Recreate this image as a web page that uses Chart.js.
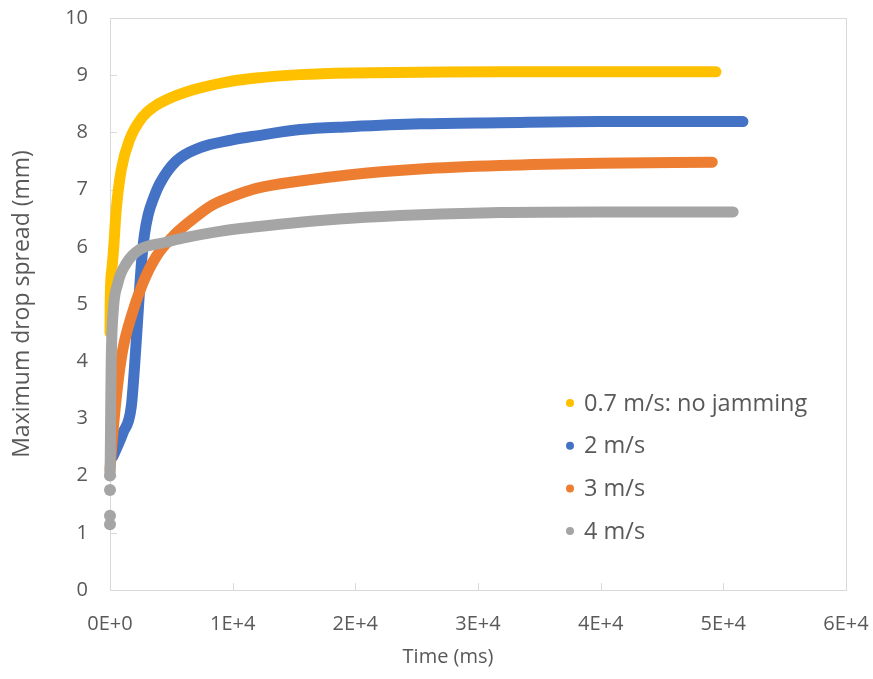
<!DOCTYPE html>
<html>
<head>
<meta charset="utf-8">
<script src="https://cdn.jsdelivr.net/npm/chart.js@4.4.1/dist/chart.umd.min.js"></script>
<style>
  html, body { margin: 0; padding: 0; background: #fff; }
</style>
</head>
<body>
<canvas id="grafico" width="873" height="679"></canvas>
<script>
// Tiempos (ms) y extensión máxima de la gota (mm) para cada velocidad de impacto
var tiempo07 = [0, 20, 150, 285, 505, 913, 1590, 2650, 3600, 4600, 6720, 9500, 11900, 15500, 19600, 25300, 31800, 39900, 49400];
var spread07 = [4.5, 5.07, 5.6, 5.94, 6.64, 7.34, 7.87, 8.27, 8.45, 8.57, 8.74, 8.88, 8.95, 9.01, 9.04, 9.05, 9.06, 9.06, 9.06];

var tiempo2 = [230, 1040, 1730, 2000, 2270, 2540, 2800, 3100, 3550, 4100, 5400, 7290, 9980, 11940, 15500, 19600, 25300, 31800, 39900, 51600];
var spread2 = [2.33, 2.74, 3.2, 3.9, 4.78, 5.65, 6.2, 6.55, 6.85, 7.12, 7.5, 7.73, 7.87, 7.94, 8.05, 8.1, 8.15, 8.17, 8.19, 8.19];

var tiempo3 = [0, 230, 640, 1040, 1730, 2670, 3770, 5120, 7030, 8350, 9980, 11940, 15500, 19600, 25300, 31800, 39900, 49100];
var spread3 = [2.1, 2.74, 3.61, 4.2, 4.78, 5.36, 5.83, 6.18, 6.53, 6.73, 6.88, 7.02, 7.15, 7.26, 7.36, 7.42, 7.46, 7.48];

var tiempo4 = [0, 0, 0, 0, 30, 60, 100, 230, 640, 1330, 2400, 4580, 5910, 8930, 11940, 15500, 19600, 25300, 31800, 39900, 50800];
var spread4 = [1.15, 1.3, 1.75, 2.0, 2.5, 3.2, 4.0, 4.78, 5.36, 5.71, 5.95, 6.08, 6.15, 6.27, 6.35, 6.43, 6.5, 6.56, 6.6, 6.61, 6.61];

var etiquetas = ['0.7 m/s: no jamming', '2 m/s', '3 m/s', '4 m/s'];
var colores = ['#FFC000', '#4472C4', '#ED7D31', '#A5A5A5'];
var ticksX = [0, 10000, 20000, 30000, 40000, 50000, 60000];
var ticksY = [0, 1, 2, 3, 4, 5, 6, 7, 8, 9, 10];

var fuente = "'Open Sans', 'Noto Sans', sans-serif";
var gris = '#595959';

function puntos(xs, ys) {
    var out = [];
    for (var i = 0; i < xs.length; i++) out.push({ x: xs[i], y: ys[i] });
    return out;
}

// 0 -> 0E+0, 10000 -> 1E+4
function cientifico(v) {
    if (v === 0) return '0E+0';
    var e = Math.floor(Math.log10(v));
    return Math.round(v / Math.pow(10, e)) + 'E+' + e;
}

function serie(i, xs, ys, orden) {
    return {
        label: etiquetas[i],
        data: puntos(xs, ys),
        showLine: true,
        cubicInterpolationMode: 'monotone',
        borderColor: colores[i],
        backgroundColor: colores[i],
        borderWidth: 11,
        borderCapStyle: 'round',
        borderJoinStyle: 'round',
        pointRadius: 0,
        pointBorderWidth: 0,
        pointHoverRadius: 0,
        clip: false,
        order: orden
    };
}

var datasets = [
    serie(0, tiempo07, spread07, 4),
    serie(1, tiempo2, spread2, 3),
    serie(2, tiempo3, spread3, 2),
    serie(3, tiempo4, spread4, 1)
];
// los primeros valores de 4 m/s son puntos sueltos
datasets[3].pointRadius = function (c) { return c.dataIndex < 4 ? 6 : 0; };
datasets[3].segment = {
    borderColor: function (c) { return c.p1DataIndex <= 3 ? 'rgba(0,0,0,0)' : colores[3]; }
};

// Marco del área, marcas hacia dentro, título del eje X y leyenda
var marco = {
    id: 'marco',
    beforeDatasetsDraw: function (chart) {
        var ctx = chart.ctx, a = chart.chartArea;
        var sx = chart.scales.x, sy = chart.scales.y;
        ctx.save();
        ctx.strokeStyle = '#D9D9D9';
        ctx.lineWidth = 1;
        ctx.strokeRect(Math.round(a.left) + 0.5, Math.round(a.top) + 0.5,
            Math.round(a.right - a.left), Math.round(a.bottom - a.top));
        ctx.beginPath();
        ticksY.forEach(function (v) {
            var py = Math.round(sy.getPixelForValue(v)) + 0.5;
            ctx.moveTo(a.left, py);
            ctx.lineTo(a.left + 7, py);
        });
        ticksX.forEach(function (v) {
            var px = Math.round(sx.getPixelForValue(v)) + 0.5;
            ctx.moveTo(px, a.bottom);
            ctx.lineTo(px, a.bottom - 7);
        });
        ctx.stroke();
        ctx.restore();
    },
    afterDraw: function (chart) {
        var ctx = chart.ctx, a = chart.chartArea;
        ctx.save();
        ctx.fillStyle = gris;
        ctx.textBaseline = 'middle';
        ctx.textAlign = 'center';
        ctx.font = '20px ' + fuente;
        ctx.fillText('Time (ms)', 448, 657);

        ctx.textAlign = 'left';
        ctx.font = '23.5px ' + fuente;
        var lx = a.left + 460, ly = a.top + 385;
        chart.data.datasets.forEach(function (d, i) {
            var y = ly + i * 42.7;
            ctx.fillStyle = d.borderColor;
            ctx.beginPath();
            ctx.arc(lx, y, 4, 0, Math.PI * 2);
            ctx.fill();
            ctx.fillStyle = gris;
            ctx.fillText(d.label, lx + 14, y + 1);
        });
        ctx.restore();
    }
};

var ctx = document.getElementById('grafico').getContext('2d');
var grafico = new Chart(ctx, {
    type: 'scatter',
    data: { datasets: datasets },
    plugins: [marco],
    options: {
        responsive: false,
        animation: false,
        devicePixelRatio: 1,
        layout: { padding: { top: 18, right: 27, left: 0, bottom: 0 } },
        plugins: {
            legend: { display: false },
            tooltip: { enabled: false }
        },
        scales: {
            x: {
                type: 'linear',
                min: 0,
                max: 60000,
                afterBuildTicks: function (s) { s.ticks = ticksX.map(function (v) { return { value: v }; }); },
                afterFit: function (s) { s.height = 89; s.paddingLeft = 0; s.paddingRight = 0; },
                grid: { display: false },
                border: { display: false },
                ticks: {
                    color: gris,
                    font: { family: fuente, size: 20 },
                    padding: 14,
                    maxRotation: 0,
                    callback: function (v) { return cientifico(v); }
                }
            },
            y: {
                min: 0,
                max: 10,
                afterBuildTicks: function (s) { s.ticks = ticksY.map(function (v) { return { value: v }; }); },
                afterFit: function (s) { s.width = 110; s.paddingTop = 0; s.paddingBottom = 0; },
                grid: { display: false },
                border: { display: false },
                ticks: {
                    color: gris,
                    font: { family: fuente, size: 20 },
                    padding: 14
                },
                title: {
                    display: true,
                    text: 'Maximum drop spread (mm)',
                    color: gris,
                    font: { family: fuente, size: 23 },
                    padding: { top: 9, bottom: 0 }
                }
            }
        }
    }
});
</script>
</body>
</html>
